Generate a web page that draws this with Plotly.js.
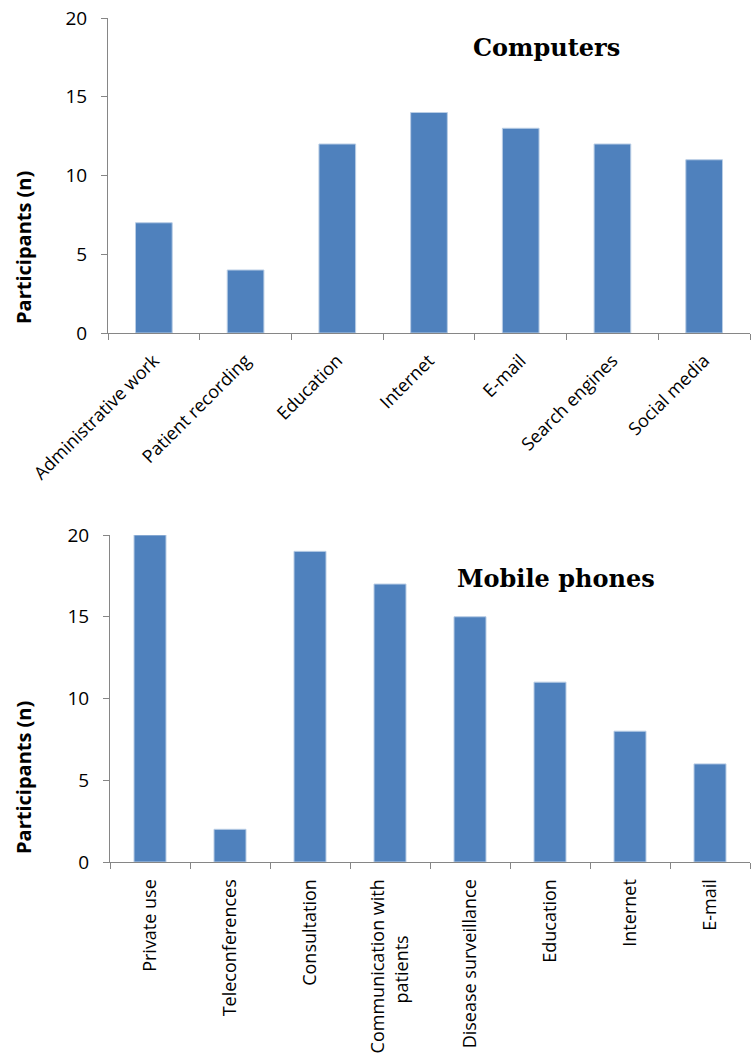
<!DOCTYPE html>
<html>
<head>
<meta charset="utf-8">
<script src="https://cdn.plot.ly/plotly-3.0.1.min.js"></script>
<style>html,body{margin:0;padding:0;background:#fff;}#chart{width:755px;height:1056px;}</style>
</head>
<body>
<div id="chart"></div>
<script>
const computerCategories = ["Administrative work", "Patient recording", "Education", "Internet", "E-mail", "Search engines", "Social media"];
const computerValues = [7, 4, 12, 14, 13, 12, 11];
const phoneCategories = ["Private use", "Teleconferences", "Consultation", "Communication with patients", "Disease surveillance", "Education", "Internet", "E-mail"];
const phoneLabels = ["Private use", "Teleconferences", "Consultation", "Communication with<br>patients", "Disease surveillance", "Education", "Internet", "E-mail"];
const phoneValues = [20, 2, 19, 17, 15, 11, 8, 6];
const yTickValues = [0, 5, 10, 15, 20];
const topTitle = "Computers";
const bottomTitle = "Mobile phones";
const yTitle = "Participants (n)";

const H = 1056, W = 755;
const barColor = "#4F81BD";
const axisColor = "#868686";
const tickFont = {family: "Open Sans, sans-serif", size: 19, color: "#000"};
const catFont = {family: "Open Sans, sans-serif", size: 18, color: "#000"};

// pad second line of multi-line label so it sits centred under the first (rotated text is end-anchored)
const pad = "\u00A0".repeat(12);
const phoneTickText = phoneLabels.map(s => s.indexOf("<br>") >= 0 ? s + pad : s);

const traces = [
  {type: "bar", x: computerCategories, y: computerValues, xaxis: "x", yaxis: "y",
   marker: {color: barColor, line: {color: "#b9cde5", width: 1}}, width: 0.4, hoverinfo: "none"},
  {type: "bar", x: phoneCategories, y: phoneValues, xaxis: "x2", yaxis: "y2",
   marker: {color: barColor, line: {color: "#b9cde5", width: 1}}, width: 0.4, hoverinfo: "none"}
];

function yax(domain, anchor) {
  return {domain: domain, anchor: anchor, range: [0, 20], tickvals: yTickValues, ticktext: yTickValues.map(String),
    showgrid: false, zeroline: false, showline: true, linecolor: axisColor, linewidth: 1,
    ticks: "outside", ticklen: 6, tickcolor: axisColor, tickwidth: 1, ticklabelstandoff: 10,
    tickfont: tickFont, automargin: false, fixedrange: true};
}
function xax(domain, anchor, angle, extra) {
  return Object.assign({domain: domain, anchor: anchor, type: "category", showgrid: false, zeroline: false,
    showline: true, linecolor: axisColor, linewidth: 1, ticks: "outside", tickson: "boundaries",
    ticklen: 6, tickcolor: axisColor, tickwidth: 1, tickangle: angle, tickfont: catFont,
    ticklabelstandoff: 9, automargin: false, fixedrange: true}, extra || {});
}

const layout = {
  width: W, height: H, margin: {l: 0, r: 0, t: 0, b: 0}, paper_bgcolor: "#fff", plot_bgcolor: "#fff",
  showlegend: false, bargap: 0.6,
  xaxis: xax([108 / W, 750 / W], "y", -45),
  yaxis: yax([1 - 333 / H, 1 - 18 / H], "x"),
  xaxis2: xax([110 / W, 750 / W], "y2", -90, {tickmode: "array", tickvals: phoneCategories, ticktext: phoneTickText}),
  yaxis2: yax([1 - 862 / H, 1 - 535 / H], "x2"),
  annotations: [
    {text: "<b>" + topTitle + "</b>", xref: "paper", yref: "paper", x: 546 / W, y: 1 - 47 / H,
     xanchor: "center", yanchor: "middle", showarrow: false, font: {family: "DejaVu Serif, serif", size: 24, color: "#000"}},
    {text: "<b>" + bottomTitle + "</b>", xref: "paper", yref: "paper", x: 556 / W, y: 1 - 578 / H,
     xanchor: "center", yanchor: "middle", showarrow: false, font: {family: "DejaVu Serif, serif", size: 24, color: "#000"}},
    {text: "<b>" + yTitle + "</b>", xref: "paper", yref: "paper", x: 23 / W, y: 1 - 248 / H, textangle: -90,
     xanchor: "center", yanchor: "middle", showarrow: false, font: {family: "Open Sans, sans-serif", size: 20, color: "#000"}},
    {text: "<b>" + yTitle + "</b>", xref: "paper", yref: "paper", x: 23 / W, y: 1 - 778 / H, textangle: -90,
     xanchor: "center", yanchor: "middle", showarrow: false, font: {family: "Open Sans, sans-serif", size: 20, color: "#000"}}
  ]
};

Plotly.newPlot("chart", traces, layout, {displayModeBar: false, staticPlot: true});
</script>
</body>
</html>
